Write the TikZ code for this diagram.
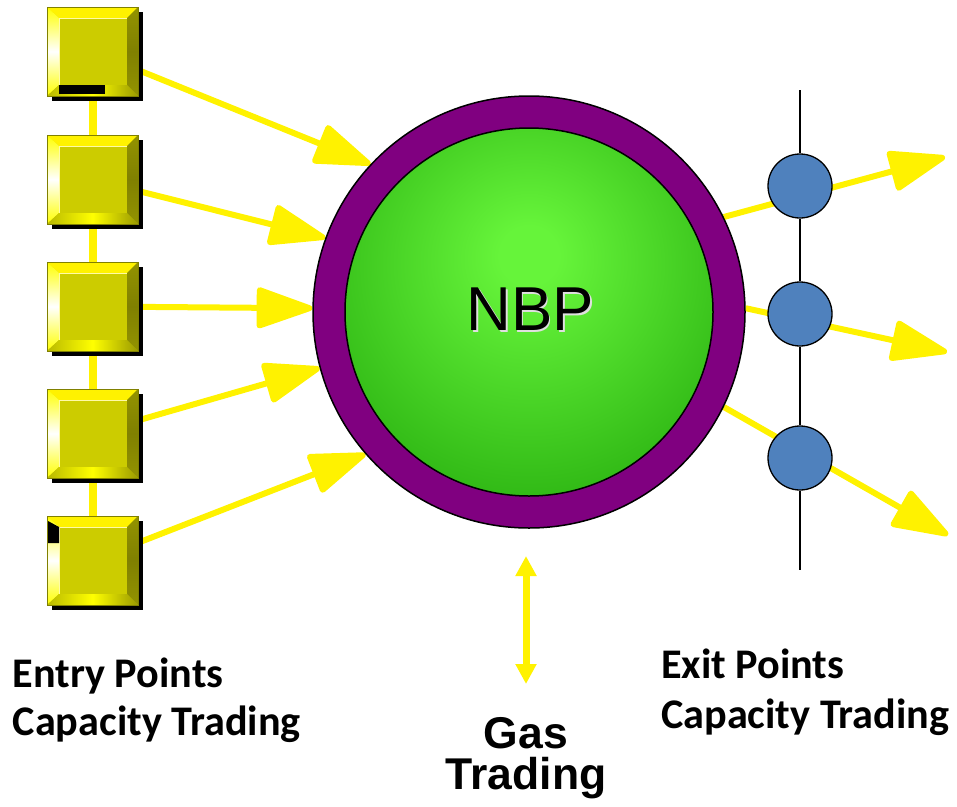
\documentclass[tikz,border=0pt]{standalone}
\usepackage{fontspec}
\setmainfont{Liberation Sans}
\newfontfamily\carl{Carlito}
\usetikzlibrary{arrows.meta,calc}
\definecolor{nbpLight}{HTML}{66F43A}
\definecolor{nbpDark}{HTML}{119600}
\definecolor{ringPurple}{HTML}{800080}
\definecolor{boxFace}{HTML}{CCCC00}
\definecolor{boxDark}{HTML}{808000}
\definecolor{exitBlue}{HTML}{4F81BD}
\pgfdeclareradialshading{nbpshade}{\pgfpoint{0bp}{8bp}}{color(0bp)=(nbpLight); color(4bp)=(nbpLight); color(47bp)=(nbpDark); color(100bp)=(nbpDark)}
\pgfdeclarelayer{bg}
\pgfsetlayers{bg,main}
\begin{document}
\begin{tikzpicture}[x=1pt,y=-1pt,
  entrybox/.style={rectangle, minimum width=91pt, minimum height=89pt, inner sep=0pt, outer sep=0pt},
  exitpt/.style={circle, fill=exitBlue, draw=black, line width=1.3pt, minimum size=64pt, inner sep=0pt},
  flow/.style={draw=yellow, line width=6pt, -{Triangle[length=62pt,width=42pt,round]}},
  gasflow/.style={draw=yellow, line width=7pt, {Triangle[length=20pt,width=20pt]}-{Triangle[length=20pt,width=20pt]}},
  ptlabel/.style={font=\carl\bfseries\fontsize{42.2}{48}\selectfont, inner sep=0pt, anchor=base west},
  gaslabel/.style={font=\bfseries\fontsize{44.5}{48}\selectfont, inner sep=0pt, anchor=base}
]
\useasboundingbox (0,0) rectangle (957,806);

% central hub
\node[circle, fill=ringPurple, draw=black, line width=1.5pt, minimum size=432pt, inner sep=0pt] (ring) at (529,312) {};
\node[circle, shading=nbpshade, draw=black, line width=1.5pt, minimum size=368pt, inner sep=0pt] (core) at (529,312) {};
\node[text=gray!25, font=\fontsize{62}{70}\selectfont, inner sep=0pt] (nbpshadow) at (531.8,311.3) {NBP};
\node[font=\fontsize{62}{70}\selectfont, inner sep=0pt] (nbp) at (530,309.5) {NBP};

% entry boxes
\node[entrybox] (b1) at (92.5,51.5) {};
\node[entrybox] (b2) at (92.5,179.5) {};
\node[entrybox] (b3) at (92.5,306.5) {};
\node[entrybox] (b4) at (92.5,433.5) {};
\node[entrybox] (b5) at (92.5,560.5) {};

% exit points
\node[exitpt] (e1) at (800,186) {};
\node[exitpt] (e2) at (800,314) {};
\node[exitpt] (e3) at (800,458) {};
\coordinate (xtop) at (800,90);
\coordinate (xbot) at (800,570);
\coordinate (tA) at (945,157);
\coordinate (tB) at (947,352);
\coordinate (tC) at (948,535);
\coordinate (g1) at (526,556);
\coordinate (g2) at (526,684);

\begin{pgfonlayer}{bg}
  \draw[black, line width=1.3pt] (xtop) -- (e1) -- (e2) -- (e3) -- (xbot);
  \draw[yellow, line width=8pt] (b1.center) -- (b5.center);
  \draw[flow] (b1.center) -- (ring.137.3);
  \draw[flow] (b2.center) -- (ring.160.6);
  \draw[flow] (b3.center) -- (ring.179);
  \draw[flow] (b4.center) -- (ring.195.6);
  \draw[flow] (b5.center) -- (ring.221.4);
  \draw[flow] (ring.26.3) -- (tA);
  \draw[flow] (ring.1.5) -- (tB);
  \draw[flow] (ring.-26.6) -- (tC);
\end{pgfonlayer}

% bevelled box decoration
\foreach \b in {b1,b2,b3,b4,b5}{
  \fill[black] ($(\b.north west)+(5,5)$) rectangle ($(\b.south east)+(5,5)$);
  \fill[boxFace] (\b.north west) rectangle (\b.south east);
  \fill[yellow] (\b.north west) -- (\b.north east) -- ($(\b.north east)+(-11,11)$) -- ($(\b.north west)+(12,11)$) -- cycle;
  \shade[top color=yellow, bottom color=yellow, middle color=white] (\b.north west) -- ($(\b.north west)+(12,11)$) -- ($(\b.south west)+(12,-11)$) -- (\b.south west) -- cycle;
  \shade[top color=boxDark!85!yellow, bottom color=boxDark!85!yellow, middle color=boxDark] (\b.north east) -- ($(\b.north east)+(-11,11)$) -- ($(\b.south east)+(-11,-11)$) -- (\b.south east) -- cycle;
  \shade[left color=boxDark!55!yellow, right color=boxDark!80!yellow, middle color=yellow] (\b.south west) -- ($(\b.south west)+(12,-11)$) -- ($(\b.south east)+(-11,-11)$) -- (\b.south east) -- cycle;
  \draw[yellow!35!white, line width=0.8pt] ($(\b.south west)+(12,-11)$) -- ($(\b.north west)+(12,11)$) -- ($(\b.north east)+(-11,11)$);
  \draw[boxDark, line width=0.8pt] (\b.north west) rectangle (\b.south east);
}
% rendering marks of the original
\fill[black] ($(b1.south west)+(12,-11)$) rectangle ($(b1.south west)+(58,-2)$);
\fill[black] ($(b5.north west)+(1,5)$) -- ($(b5.north west)+(12,11)$) -- ($(b5.north west)+(12,27)$) -- ($(b5.north west)+(1,27)$) -- cycle;

% gas trading
\draw[gasflow] (g1) -- (g2);

% labels
\node[ptlabel] (entry1) at (12.5,687) {Entry Points};
\node[ptlabel] (entry2) at (12.5,735) {Capacity Trading};
\node[ptlabel] (exit1) at (661,678) {Exit Points};
\node[ptlabel] (exit2) at (661,728) {Capacity Trading};
\node[gaslabel] (gas1) at (526,748) {Gas};
\node[gaslabel] (gas2) at (526,789) {Trading};
\end{tikzpicture}
\end{document}
